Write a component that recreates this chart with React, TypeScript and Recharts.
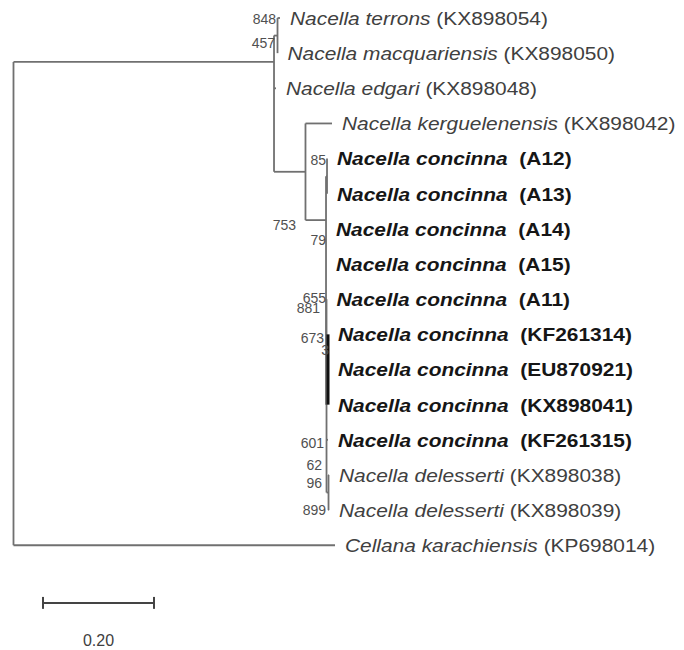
import { ReferenceLine, Scatter, ScatterChart, XAxis, YAxis } from 'recharts';

// leaves, top to bottom (row = index)
const leafNames = [
  'Nacella terrons', 'Nacella macquariensis', 'Nacella edgari', 'Nacella kerguelenensis',
  'Nacella concinna', 'Nacella concinna', 'Nacella concinna', 'Nacella concinna', 'Nacella concinna',
  'Nacella concinna', 'Nacella concinna', 'Nacella concinna', 'Nacella concinna',
  'Nacella delesserti', 'Nacella delesserti', 'Cellana karachiensis',
];
const leafCodes = [
  'KX898054', 'KX898050', 'KX898048', 'KX898042', 'A12', 'A13', 'A14', 'A15', 'A11',
  'KF261314', 'EU870921', 'KX898041', 'KF261315', 'KX898038', 'KX898039', 'KP698014',
];
const leafParents = [
  'n848', 'n848', 'T', 'n753', 'n85', 'n85', 'n655', 'n655', 'n881',
  'n673', 'n673', 'n673', 'n881', 'n96', 'n96', 'root',
];
// distance from root
const leafDepths = [
  0.4802, 0.4757, 0.473, 0.5739, 0.5649, 0.5649, 0.5631, 0.5631, 0.564,
  0.5667, 0.5667, 0.5667, 0.5667, 0.5685, 0.5685, 0.5793,
];

// internal nodes
const nodeIds = ['root', 'T', 'n848', 'n753', 'n655', 'n85', 'n881', 'n673', 'n96'];
const nodeParents = ['', 'root', 'T', 'T', 'n753', 'n655', 'n655', 'n881', 'n881'];
const nodeDepths = [0, 0.4694, 0.4757, 0.5261, 0.5631, 0.5649, 0.564, 0.5667, 0.5676];

// bootstrap values as printed
const supportValues = ['848', '457', '753', '85', '79', '655', '881', '673', '3', '601', '62', '96', '899'];
const supportDepths = [0.473, 0.4712, 0.509, 0.5631, 0.5631, 0.5631, 0.5523, 0.5595, 0.5685, 0.5595, 0.5559, 0.5559, 0.5631];
const supportRows = [0.03, 0.71, 5.89, 4.04, 6.32, 7.97, 8.25, 9.1, 9.45, 12.09, 12.72, 13.23, 14.0];

const scaleLength = 0.2;
const scaleLabel = '0.20';
const scaleStart = 0.0532;
const scaleRow = 16.64;
const scaleLabelRow = 17.7;

const LINE = '#707070';
const FONT = "'Liberation Sans', Arial, sans-serif";

type TreeNode = { id: string; parent: string; x: number; row: number; children: TreeNode[] };

const buildTree = () => {
  const map: Record<string, TreeNode> = {};
  nodeIds.forEach((id, i) => {
    map[id] = { id, parent: nodeParents[i], x: nodeDepths[i], row: NaN, children: [] };
  });
  const leaves = leafNames.map((name, i) => {
    const n: TreeNode = { id: 'leaf' + i, parent: leafParents[i], x: leafDepths[i], row: i, children: [] };
    map[n.id] = n;
    return { name, code: leafCodes[i], x: leafDepths[i], row: i };
  });
  Object.values(map).forEach((n) => {
    if (n.parent) map[n.parent].children.push(n);
  });
  const setRow = (n: TreeNode): number => {
    if (!n.children.length) return n.row;
    const rows = n.children.map(setRow);
    n.row = (rows[0] + rows[rows.length - 1]) / 2;
    return n.row;
  };
  setRow(map.root);

  const segs: { x1: number; y1: number; x2: number; y2: number; thick: boolean }[] = [];
  Object.values(map).forEach((n) => {
    if (n.parent && map[n.parent].x !== n.x) {
      segs.push({ x1: map[n.parent].x, y1: n.row, x2: n.x, y2: n.row, thick: false });
    }
    if (n.children.length) {
      const rows = n.children.map((c) => c.row);
      segs.push({ x1: n.x, y1: Math.min(...rows), x2: n.x, y2: Math.max(...rows), thick: n.id === 'n673' });
    }
  });
  return { leaves, segs };
};

const { leaves, segs } = buildTree();
const supports = supportValues.map((v, i) => ({ v, x: supportDepths[i], row: supportRows[i] }));
const scaleText = [{ v: scaleLabel, x: scaleStart + scaleLength / 2, row: scaleLabelRow }];

const LeafLabel = (props: any) => {
  const { cx, cy, payload } = props;
  const bold = payload.name === 'Nacella concinna';
  return (
    <text
      transform={`translate(${cx + 10},${cy}) scale(1.1,1)`}
      dy="0.36em"
      fontFamily={FONT}
      fontSize={19}
      fontWeight={bold ? 'bold' : 'normal'}
      fill={bold ? '#161616' : '#404040'}
    >
      <tspan fontStyle="italic">{payload.name}</tspan>
      <tspan>{bold ? '\u00a0\u00a0(' + payload.code + ')' : '\u00a0(' + payload.code + ')'}</tspan>
    </text>
  );
};

const SupportLabel = (props: any) => {
  const { cx, cy, payload } = props;
  return (
    <text x={cx} y={cy} dy="0.36em" textAnchor="end" fontFamily={FONT} fontSize={14} fill="#505050">
      {payload.v}
    </text>
  );
};

const ScaleLabel = (props: any) => {
  const { cx, cy, payload } = props;
  return (
    <text x={cx} y={cy} dy="0.36em" textAnchor="middle" fontFamily={FONT} fontSize={16} fill="#404040">
      {payload.v}
    </text>
  );
};

export default function App() {
  return (
    <div style={{ position: 'absolute', left: 0, top: 0 }}>
      <ScatterChart width={684} height={650} margin={{ top: 0, right: 0, bottom: 0, left: 0 }}>
        <XAxis type="number" dataKey="x" domain={[-0.02432, 1.20811]} allowDataOverflow hide />
        <YAxis type="number" dataKey="row" domain={[-0.5121, 17.98]} reversed allowDataOverflow hide />
        {segs.map((s, i) => (
          <ReferenceLine
            key={i}
            segment={[{ x: s.x1, y: s.y1 }, { x: s.x2, y: s.y2 }]}
            stroke={s.thick ? '#111' : LINE}
            strokeWidth={s.thick ? 3 : 1.8}
          />
        ))}
        <ReferenceLine
          segment={[{ x: scaleStart, y: scaleRow }, { x: scaleStart + scaleLength, y: scaleRow }]}
          stroke="#444"
          strokeWidth={2}
        />
        <ReferenceLine
          segment={[{ x: scaleStart, y: scaleRow - 0.17 }, { x: scaleStart, y: scaleRow + 0.17 }]}
          stroke="#444"
          strokeWidth={2}
        />
        <ReferenceLine
          segment={[{ x: scaleStart + scaleLength, y: scaleRow - 0.17 }, { x: scaleStart + scaleLength, y: scaleRow + 0.17 }]}
          stroke="#444"
          strokeWidth={2}
        />
        <Scatter data={leaves} shape={LeafLabel} isAnimationActive={false} />
        <Scatter data={supports} shape={SupportLabel} isAnimationActive={false} />
        <Scatter data={scaleText} shape={ScaleLabel} isAnimationActive={false} />
      </ScatterChart>
    </div>
  );
}
